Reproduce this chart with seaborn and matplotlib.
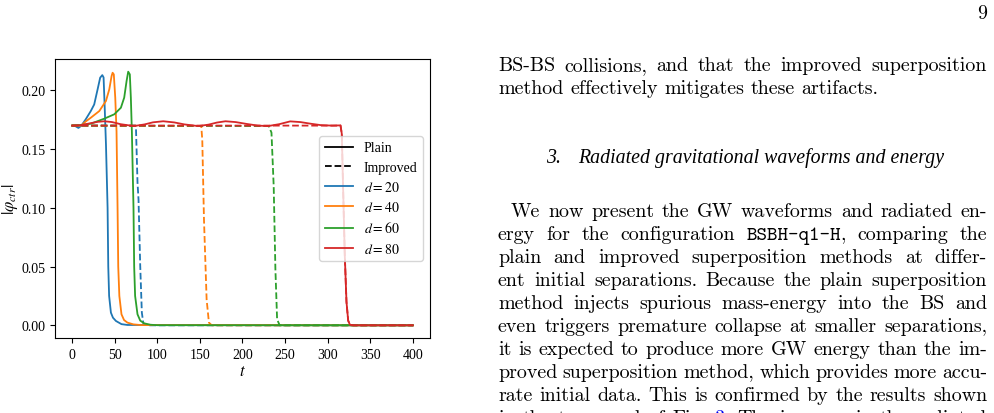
import matplotlib
matplotlib.use("Agg")
import matplotlib.pyplot as plt
import seaborn as sns
import pandas as pd
from matplotlib.lines import Line2D
from matplotlib.transforms import IdentityTransform

# ---------------- data ----------------
t_plain_20 = [0, 4, 7.5, 11, 16, 22, 26, 30, 33, 35.5, 37, 38.2, 39.8, 41.7, 42.5, 43.5, 45.6, 48, 51.5, 58, 65, 400]
phi_plain_20 = [0.170, 0.1695, 0.168, 0.170, 0.1753, 0.1824, 0.188, 0.2009, 0.2108, 0.2130, 0.211, 0.188, 0.154,
                0.100, 0.050, 0.025, 0.0108, 0.0065, 0.0037, 0.001, 0.0003, 0.0]
t_impr_20 = [0, 74, 75, 76.8, 78, 80, 81.9, 83.8, 90, 400]
phi_impr_20 = [0.170, 0.170, 0.168, 0.1217, 0.107, 0.0505, 0.0108, 0.001, 0.0, 0.0]

t_plain_40 = [0, 10.5, 16, 22, 32, 39.8, 43.7, 46.4, 47.6, 49, 50.7, 52.2, 53.4, 54.2, 55.5, 58, 61, 65, 72, 81, 400]
phi_plain_40 = [0.170, 0.170, 0.1735, 0.1767, 0.1824, 0.191, 0.2009, 0.2122, 0.2150, 0.2136, 0.1938, 0.165,
                0.100, 0.050, 0.025, 0.0094, 0.0045, 0.0023, 0.0008, 0.0002, 0.0]
t_impr_40 = [0, 151.6, 152.8, 154.8, 157.9, 160.6, 164, 400]
phi_impr_40 = [0.170, 0.1696, 0.158, 0.090, 0.022, 0.0023, 0.0, 0.0]

t_plain_60 = [0, 10, 22, 37.8, 49.5, 57.3, 61.2, 64, 65.9, 67.8, 69, 70.2, 72.1, 72.9, 74, 76.8, 80, 84.6, 92, 100, 400]
phi_plain_60 = [0.170, 0.1705, 0.1716, 0.1759, 0.1796, 0.1852, 0.1938, 0.208, 0.2159, 0.2136, 0.1938, 0.165,
                0.100, 0.050, 0.025, 0.0094, 0.004, 0.0017, 0.0005, 0.0001, 0.0]
t_impr_60 = [0, 230.8, 234, 236.6, 238.6, 240.6, 243.6, 400]
phi_impr_60 = [0.170, 0.1696, 0.164, 0.1185, 0.0477, 0.0051, 0.0, 0.0]

t_plain_80 = [0, 10, 20, 30, 38, 47, 57, 72.5, 85, 95, 107, 120, 132, 148, 160, 170, 180, 192, 205, 218, 230,
              243, 256, 268, 280, 292, 305, 315, 316.5, 318, 320, 322, 324, 326, 330, 400]
phi_plain_80 = [0.1700, 0.1703, 0.1718, 0.1732, 0.1737, 0.1730, 0.1712, 0.1696, 0.1710, 0.1728, 0.1737, 0.1727,
                0.1710, 0.1696, 0.1708, 0.1726, 0.1737, 0.1730, 0.1714, 0.1700, 0.1696, 0.1712, 0.1736, 0.1730,
                0.1716, 0.1704, 0.1700, 0.1702, 0.163, 0.118, 0.060, 0.020, 0.004, 0.0005, 0.0, 0.0]
t_impr_80 = [0, 315, 316.5, 318, 320, 322, 324, 326, 330, 400]
phi_impr_80 = [0.1700, 0.1700, 0.163, 0.118, 0.060, 0.020, 0.004, 0.0005, 0.0, 0.0]

separations = [20, 40, 60, 80]
plain_series = [(t_plain_20, phi_plain_20), (t_plain_40, phi_plain_40), (t_plain_60, phi_plain_60), (t_plain_80, phi_plain_80)]
impr_series = [(t_impr_20, phi_impr_20), (t_impr_40, phi_impr_40), (t_impr_60, phi_impr_60), (t_impr_80, phi_impr_80)]
method_labels = ["Plain", "Improved"]
x_ticks = [0, 50, 100, 150, 200, 250, 300, 350, 400]
y_ticks = [0.00, 0.05, 0.10, 0.15, 0.20]

# ---------------- figure ----------------
plt.rcParams["font.family"] = ["Liberation Serif", "DejaVu Serif"]
plt.rcParams["mathtext.fontset"] = "stix"

W, H = 994, 414
fig = plt.figure(figsize=(W / 100, H / 100), dpi=100)
ax = fig.add_axes([55 / W, 1 - 339 / H, 375 / W, 279 / H])

colors = sns.color_palette("tab10", 4)
lw = 1.3
for d, c, (tp, vp), (ti, vi) in zip(separations, colors, plain_series, impr_series):
    sns.lineplot(x=tp, y=vp, ax=ax, color=c, lw=lw, linestyle="-", sort=False, estimator=None, legend=False)
    sns.lineplot(x=ti, y=vi, ax=ax, color=c, lw=lw, linestyle="--", sort=False, estimator=None, legend=False)

ax.set_xticks(x_ticks)
ax.set_yticks(y_ticks)
ax.yaxis.set_major_formatter(matplotlib.ticker.FormatStrFormatter("%.2f"))
ax.tick_params(labelsize=10)
ax.set_xlabel(r"$t$", fontsize=12, labelpad=2)
ax.set_ylabel(r"$|\varphi_{ctr}|$", fontsize=12)
ax.yaxis.set_label_coords(-0.093, 0.5)

handles = [Line2D([], [], color="k", lw=lw, ls="-"), Line2D([], [], color="k", lw=lw, ls="--")]
labels = list(method_labels)
for d, c in zip(separations, colors):
    handles.append(Line2D([], [], color=c, lw=lw, ls="-"))
    labels.append(r"$d=%d$" % d)
ax.legend(handles, labels, loc="center right", fontsize=10, labelspacing=0.45)

# ---------------- page text ----------------
fs = 14.4
rm = dict(family="cmr10", fontsize=fs)
tt = dict(family="cmtt10", fontsize=fs)
link = dict(family="cmr10", fontsize=fs, color="#0000ee")
ident = IdentityTransform()

fig.canvas.draw()
renderer = fig.canvas.get_renderer()


def word_tokens(line):
    out = []
    for w in line.split(" "):
        if w.startswith("BSBH-q1-H"):
            out.append([("BSBH-q1-H", tt), (w[len("BSBH-q1-H"):], rm)])
        elif w == "3." and "Fig." in line:
            out.append([("3", link), (".", rm)])
        else:
            out.append([(w, rm)])
    return out


def place_line(line, base_y, x0=498, x1=987, justify=True, indent=0):
    words = word_tokens(line)
    built = []
    total = 0
    for word in words:
        parts = []
        wsum = 0
        for s, kw in word:
            if not s:
                continue
            t = fig.text(0, H - base_y, s, transform=ident, va="baseline", ha="left", **kw)
            w = t.get_window_extent(renderer).width
            parts.append((t, wsum))
            wsum += w
        built.append((parts, wsum))
        total += wsum
    n = len(built)
    if justify and n > 1:
        gap = (x1 - x0 - indent - total) / (n - 1)
    else:
        gap = 0.333 * fs * 100 / 72
    x = x0 + indent
    for parts, wsum in built:
        for t, off in parts:
            t.set_x(x + off)
        x += wsum + gap


fig.text(987, H - 19, "9", transform=ident, ha="right", va="baseline", **rm)
place_line("BS-BS collisions, and that the improved superposition", 71)
place_line("method effectively mitigates these artifacts.", 94, justify=False)

# heading: number + italic title
hd = dict(family="Liberation Serif", style="italic", fontsize=14.3)
fig.text(546, H - 163, "3.", transform=ident, ha="left", va="baseline", **hd)
fig.text(578, H - 163, "Radiated gravitational waveforms and energy", transform=ident,
         ha="left", va="baseline", **hd)

para = [
    "We now present the GW waveforms and radiated en-",
    "ergy for the configuration BSBH-q1-H, comparing the",
    "plain and improved superposition methods at differ-",
    "ent initial separations. Because the plain superposition",
    "method injects spurious mass-energy into the BS and",
    "even triggers premature collapse at smaller separations,",
    "it is expected to produce more GW energy than the im-",
    "proved superposition method, which provides more accu-",
    "rate initial data. This is confirmed by the results shown",
    "in the top panel of Fig. 3. The increase in the radiated",
]
for i, line in enumerate(para):
    place_line(line, 217 + 23 * i, indent=13 if i == 0 else 0)

fig.savefig("out.png", dpi=100)
